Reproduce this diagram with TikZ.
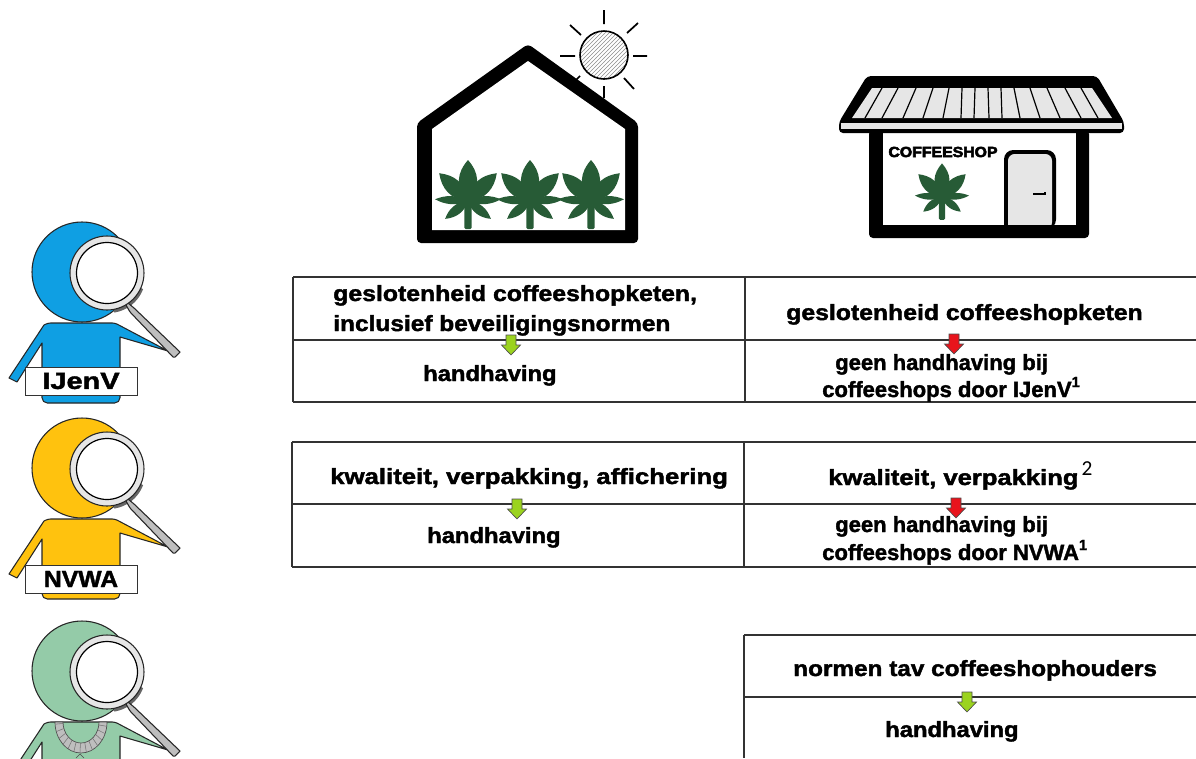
\documentclass[tikz,border=0pt]{standalone}
\usepackage{fontspec}
\usepackage{graphicx}
\setmainfont{Liberation Sans}
\newfontface\heavy[FakeBold=1.7]{Liberation Sans Bold}
\newfontface\heavier[FakeBold=3.5]{Liberation Sans Bold}
\newfontfamily\thinfont{Carlito}
\usetikzlibrary{patterns}
\definecolor{leafgreen}{HTML}{275B36}
\definecolor{ijblue}{HTML}{0F9FE3}
\definecolor{nvyellow}{HTML}{FFC20E}
\definecolor{sgreen}{HTML}{94CBA8}
\definecolor{lightg}{HTML}{E6E6E6}
\definecolor{handleg}{HTML}{BEBEBE}
\definecolor{okgreen}{HTML}{9BD31F}
\definecolor{nored}{HTML}{E8141C}
\newcommand{\lobe}[3]{\fill[rotate=#1] (0,0) .. controls (#2*.35,#3) and (#2*.7,#3*.8) .. (#2,0) .. controls (#2*.7,-#3*.8) and (#2*.35,-#3) .. (0,0) -- cycle;}
\tikzset{
  px/.style={x=0.75pt,y=-0.75pt},
  tabline/.style={draw=black!80,line width=1.2pt},
  cell/.style={font=\fontsize{16.5}{21}\heavy,inner sep=0pt,text=black},
  tagbox/.style={draw=black!80,fill=white,line width=.7pt,minimum width=84pt,minimum height=21pt,inner sep=0pt,font=\fontsize{17.5}{18}\heavy},
  arrowbox/.style={draw=black!70,line width=.5pt},
  inkline/.style={draw=black!85,line width=.8pt,line join=round},
  pics/leaf/.style={code={
    \begin{scope}[fill=leafgreen,y=-1pt,x=1pt]
      \lobe{90}{41*.75}{13.5*.75}
      \lobe{44}{40*.75}{11.5*.75}
      \lobe{136}{40*.75}{11.5*.75}
      \lobe{3}{33*.75}{6*.75}
      \lobe{177}{33*.75}{6*.75}
      \lobe{-38}{29*.75}{7*.75}
      \lobe{-142}{29*.75}{7*.75}
      \fill[rounded corners=1pt] (-2.8,-3) -- (-2.8,21) -- (2.8,21) -- (2.8,-3) -- cycle;
    \end{scope}
  }},
}
\newcommand{\inspector}[2]{
\begin{scope}[yshift=-#2*0.75pt]
  \path[fill=#1,inkline] (82,272) circle (50);
  \path[fill=#1,inkline]
    (9,378) -- (44,325) [rounded corners=2pt] -- (48,323) -- (115,323) [sharp corners] -- (168,351) -- (120,337) [rounded corners=4pt] -- (120,403) -- (42,403) [sharp corners] -- (42,343) -- (17,382) -- cycle;
  \begin{scope}
    \clip (107,273) -- (152,293) -- (148,322) -- (116,322) -- cycle;
    \fill[black!60] (108.5,276) circle (37);
  \end{scope}
  \path[fill=handleg,inkline] (122,298) -- (134,308) -- (180,352) [rounded corners=1pt] -- (174,358) -- (130,312) -- cycle;
  \path[fill=lightg,inkline] (107,273) circle (37);
  \path[fill=white,draw=black,line width=.9pt] (107,273) circle (30.5);
\end{scope}}
\newcommand{\downarr}[3]{\path[fill=#1,arrowbox] (#2-5,#3-10) -- (#2+5,#3-10) -- (#2+5,#3) -- (#2+9.5,#3) -- (#2,#3+10) -- (#2-9.5,#3) -- (#2-5,#3) -- cycle;}
\newcommand{\supone}{\raisebox{7.5pt}{\fontsize{11}{12}\heavy 1}}
\begin{document}
\begin{tikzpicture}[px]
\useasboundingbox (0,0) rectangle (1196,758);
% sun
\path[pattern=north east lines,pattern color=black!45] (604,55) circle (24);
\draw[line width=1.2pt] (604,55) circle (24);
\draw[line width=1.3pt]
  (604,10) -- (604,24) (604,86) -- (604,98)
  (560,56) -- (575,56) (633,56) -- (647,56)
  (570,25) -- (581,35) (638,23) -- (627,33)
  (624,78) -- (634,89) (580,76) -- (576,80);
% greenhouse
\fill[rounded corners=3pt] (528,44) -- (638,123) -- (638,243) -- (417,243) -- (417,123) -- cycle;
\fill[white] (528,61) -- (625,129) -- (625,230) -- (432,230) -- (432,129) -- cycle;
\pic at (468,201) {leaf};
\pic at (530,201) {leaf};
\pic at (591,201) {leaf};
% coffeeshop
\fill[rounded corners=3pt] (869,130) -- (1089,130) -- (1089,238) -- (869,238) -- cycle;
\fill[white] (883,130) rectangle (1076,225);
\fill[rounded corners=3pt] (867,76) -- (1097,76) -- (1124,122) -- (1124,133) -- (839,133) -- (839,122) -- cycle;
\fill[lightg] (872,88) -- (1092,88) -- (1112,118) -- (852,118) -- cycle;
\fill[lightg] (841,123) rectangle (1122,129);
\draw[line width=.9pt]
  (882,88) -- (865,118) (898,88) -- (882,118) (916,88) -- (903,118) (933,88) -- (923,118)
  (949,88) -- (943,118) (962,88) -- (961,118) (975,88) -- (974,118)
  (988,88) -- (989,118) (1001,88) -- (1002,118) (1014,88) -- (1020,118) (1030,88) -- (1040,118)
  (1047,88) -- (1060,118) (1065,88) -- (1081,118) (1081,88) -- (1098,118);
\fill (1004,229) [rounded corners=7pt] -- (1004,150) -- (1056,150) -- (1056,229) [sharp corners] -- cycle;
\fill[lightg] (1008,229) [rounded corners=5pt] -- (1008,154) -- (1052,154) -- (1052,229) [sharp corners] -- cycle;
\fill (980,225) rectangle (1080,232);
\draw[line width=.9pt] (1033,194) -- (1045,194) -- (1045,192);
\node[inner sep=0pt,font=\fontsize{11}{12}\heavier] (shop) at (943,152) {\scalebox{1.08}[1]{COFFEESHOP}};
\pic[scale=.82] at (942,197) {leaf};
% inspectors
\inspector{ijblue}{0}
\inspector{nvyellow}{196}
\inspector{sgreen}{399}
% necklace
\path[fill=handleg,draw=black!70,line width=.5pt] (107,722) arc[start angle=0,end angle=180,x radius=26,y radius=31] -- (63,722) arc[start angle=180,end angle=0,x radius=18,y radius=21] -- cycle;
\foreach \a in {8,22,...,176}{\draw[black!55,line width=.4pt] ({81+18*cos(\a)},{722+21*sin(\a)}) -- ({81+26*cos(\a)},{722+31*sin(\a)});}
\draw[black!70,line width=.5pt] (76,758) -- (80,754) -- (84,758);
% labels
\node[tagbox] (ij) at (81,381) {\scalebox{1.24}[1]{IJenV}};
\node[tagbox] (nv) at (81,579) {\scalebox{1.06}[1]{NVWA}};
% tables
\draw[tabline] (293,277) -- (1196,277) (293,340) -- (1196,340) (293,402) -- (1196,402) (293,277) -- (293,402) (745,277) -- (745,402);
\draw[tabline] (292,442) -- (1196,442) (292,504) -- (1196,504) (292,567) -- (1196,567) (292,442) -- (292,567) (744,442) -- (744,567);
\draw[tabline] (744,635) -- (1196,635) (744,697) -- (1196,697) (744,635) -- (744,758);
% arrows
\downarr{okgreen}{511}{345}
\downarr{nored}{954}{344}
\downarr{okgreen}{517}{509}
\downarr{nored}{956}{508}
\downarr{okgreen}{967}{702}
% texts
\node[cell,anchor=base west] (a1) at (333,301) {\scalebox{1.127}[1]{geslotenheid coffeeshopketen,}};
\node[cell,anchor=base west] (a1b) at (333,331) {\scalebox{1.112}[1]{inclusief beveiligingsnormen}};
\node[cell,anchor=base west] (a2) at (786,320) {\scalebox{1.126}[1]{geslotenheid coffeeshopketen}};
\node[cell,anchor=base west] (a3) at (423,381) {\scalebox{1.08}[1]{handhaving}};
\node[cell,anchor=base west] (a4) at (835,370) {geen handhaving bij};
\node[cell,anchor=base west] (a4b) at (822,397) {coffeeshops door IJenV\supone};
\node[cell,anchor=base west] (b1) at (330,484) {\scalebox{1.17}[1]{kwaliteit, verpakking, affichering}};
\node[cell,anchor=base west] (b2) at (828,485) {\scalebox{1.163}[1]{kwaliteit, verpakking}};
\node[inner sep=0pt,font=\fontsize{16}{17}\thinfont] (b2s) at (1087,469) {2};
\node[cell,anchor=base west] (b3) at (427,543) {\scalebox{1.08}[1]{handhaving}};
\node[cell,anchor=base west] (b4) at (835,532) {geen handhaving bij};
\node[cell,anchor=base west] (b4b) at (822,560) {coffeeshops door NVWA\supone};
\node[cell,anchor=base west] (c1) at (793,676) {\scalebox{1.106}[1]{normen tav coffeeshophouders}};
\node[cell,anchor=base west] (c2) at (885,737) {\scalebox{1.08}[1]{handhaving}};
\end{tikzpicture}
\end{document}
